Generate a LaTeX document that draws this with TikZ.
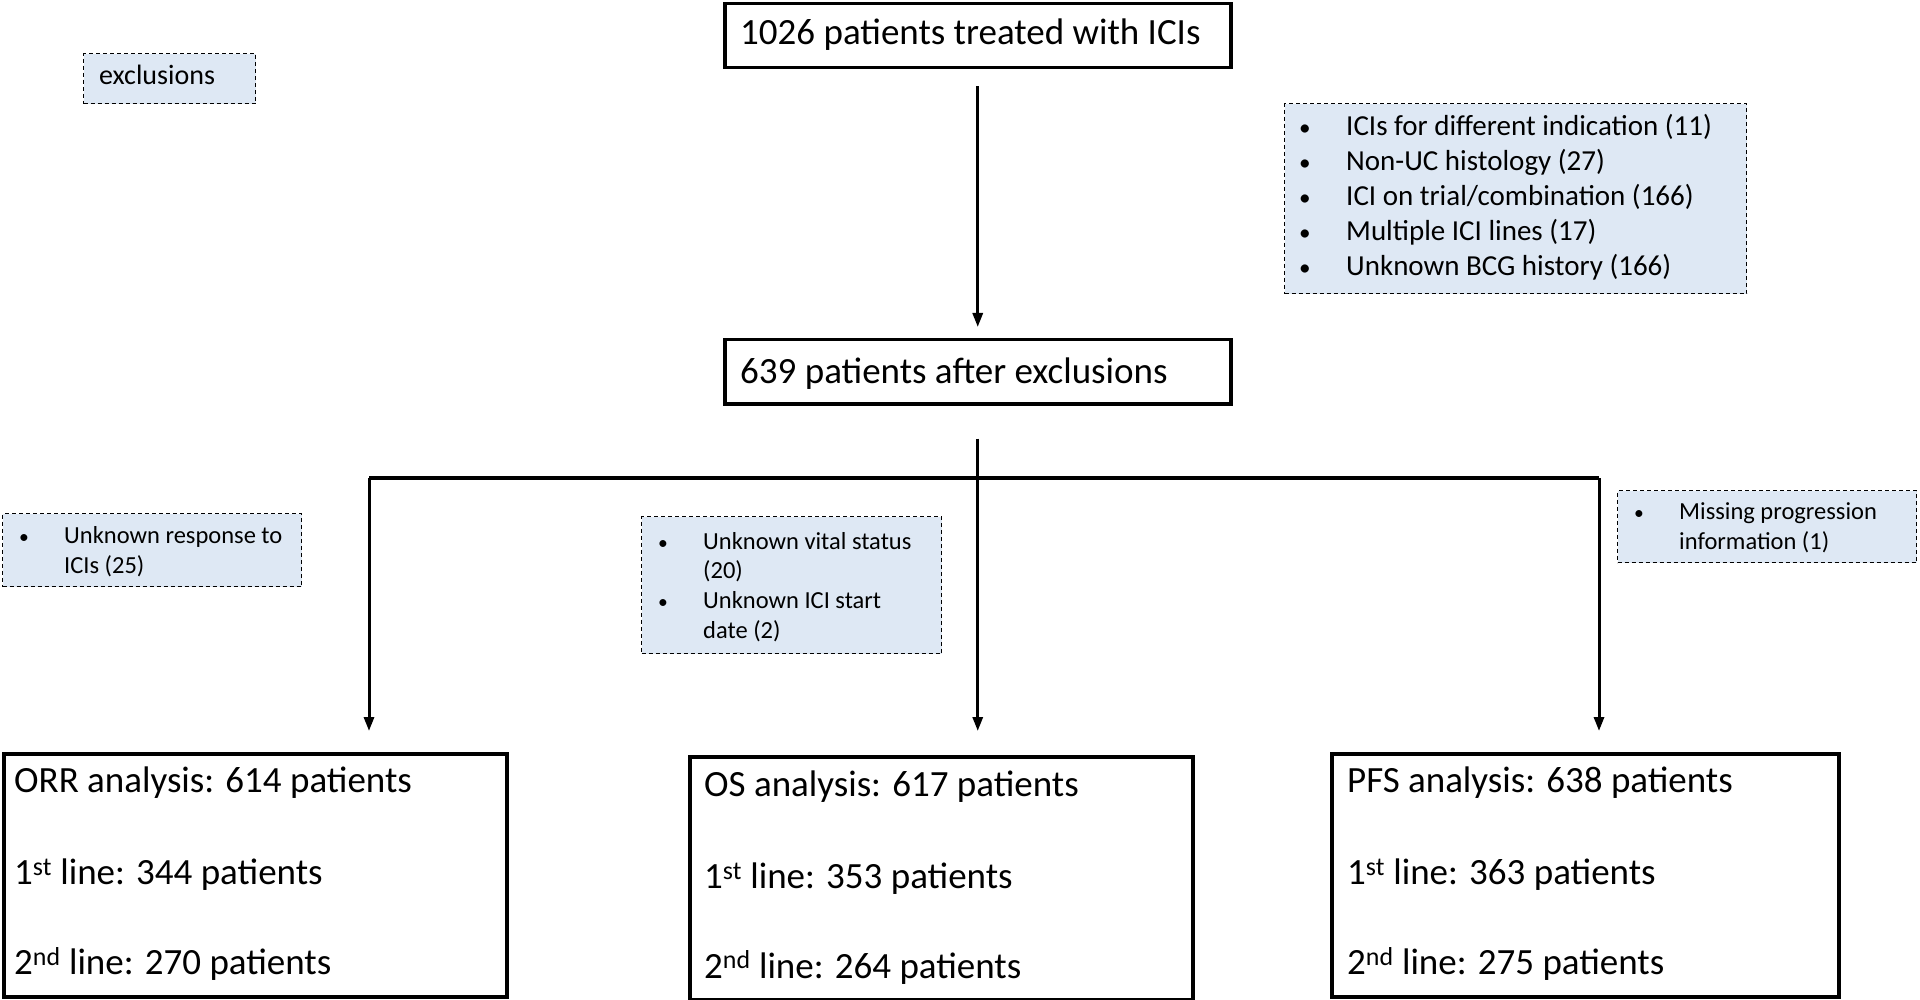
\documentclass[tikz,border=0pt]{standalone}
\usepackage{fontspec}
\setmainfont{Carlito}
\usetikzlibrary{arrows.meta}
\definecolor{exfill}{HTML}{DEE8F4}
\newcommand\bul[2]{\makebox[#1pt][l]{\hspace*{2pt}\scalebox{0.8}{\textbullet}}#2}
\newcommand\cnt[2]{\hspace*{#1pt}#2}
\tikzset{
  mainbox/.style={draw, line width=3.5pt, inner sep=0pt, anchor=north west},
  exbox/.style={draw, dash pattern=on 4pt off 3pt, line width=1.3pt, fill=exfill, inner sep=0pt, anchor=north west},
  bigtxt/.style={font=\fontsize{37}{44}\selectfont, inner sep=0pt, anchor=base west},
  smalltxt/.style={font=\fontsize{24.5}{29.8}\selectfont, inner sep=0pt, anchor=north west, align=left},
  listtxt/.style={font=\fontsize{29}{35}\selectfont, inner sep=0pt, anchor=north west, align=left},
  conn/.style={line width=3pt, line join=round},
  arr/.style={conn, -{Triangle[length=14pt,width=10pt]}}
}
\begin{document}
\begin{tikzpicture}[x=1pt,y=-1pt]
\useasboundingbox (0,0) rectangle (1920,1000);

% main boxes
\node[mainbox, minimum width=506pt, minimum height=64pt] (top) at (723,2) {};
\node[bigtxt] (toptxt) at (740,45) {1026 patients treated with ICIs};

\node[mainbox, minimum width=506pt, minimum height=64pt] (b2) at (723,338) {};
\node[bigtxt] (b2txt) at (740,383) {639 patients after exclusions};

\node[mainbox, minimum width=503pt, minimum height=243pt] (orr) at (2,752) {};
\node[bigtxt] (orr1) at (14,792.5) {ORR analysis: 614 patients};
\node[bigtxt] (orr2) at (14,884.5) {1\textsuperscript{st} line: 344 patients};
\node[bigtxt] (orr3) at (14,974.5) {2\textsuperscript{nd} line: 270 patients};

\node[mainbox, minimum width=503pt, minimum height=243pt] (os) at (688,755) {};
\node[bigtxt] (os1) at (704,796.5) {OS analysis: 617 patients};
\node[bigtxt] (os2) at (704,888.5) {1\textsuperscript{st} line: 353 patients};
\node[bigtxt] (os3) at (704,978) {2\textsuperscript{nd} line: 264 patients};

\node[mainbox, minimum width=507pt, minimum height=243pt] (pfs) at (1330,752) {};
\node[bigtxt] (pfs1) at (1347,792.5) {PFS analysis: 638 patients};
\node[bigtxt] (pfs2) at (1347,884.5) {1\textsuperscript{st} line: 363 patients};
\node[bigtxt] (pfs3) at (1347,974.5) {2\textsuperscript{nd} line: 275 patients};

% exclusion boxes
\node[exbox, minimum width=172pt, minimum height=50pt] (exl) at (83,53) {};
\node[font=\fontsize{28}{33.5}\selectfont, inner sep=0pt, anchor=base west] (exltxt) at (99,85) {exclusions};

\node[exbox, minimum width=462pt, minimum height=190pt] (ex1) at (1284,103) {};
\node[listtxt] (ex1txt) at (1297,111) {\strut\bul{49}{ICIs for different indication (11)}\\
\bul{49}{Non-UC histology (27)}\\
\bul{49}{ICI on trial/combination (166)}\\
\bul{49}{Multiple ICI lines (17)}\\
\bul{49}{Unknown BCG history (166)}};

\node[exbox, minimum width=299pt, minimum height=73pt] (ex2) at (2,513) {};
\node[smalltxt] (ex2txt) at (17,522.5) {\strut\bul{47}{Unknown response to}\\
\cnt{47}{ICIs (25)}};

\node[exbox, minimum width=300pt, minimum height=137pt] (ex3) at (641,516) {};
\node[smalltxt] (ex3txt) at (656,528) {\strut\bul{47}{Unknown vital status}\\
\cnt{47}{(20)}\\
\bul{47}{Unknown ICI start}\\
\cnt{47}{date (2)}};

\node[exbox, minimum width=299pt, minimum height=72pt] (ex4) at (1617,490) {};
\node[smalltxt] (ex4txt) at (1632,498.5) {\strut\bul{47}{Missing progression}\\
\cnt{47}{information (1)}};

% connectors
\draw[arr] ([yshift=-17pt]top.south) -- ([yshift=11pt]b2.north);
\coordinate (bl) at (369,478);
\coordinate (bR) at (1599,478);
\draw[line width=3.5pt] (bl) -- (bR);
\draw[arr] ([yshift=-33pt]b2.south) -- ([yshift=24pt]b2.south |- os.north);
\draw[arr] (bl) -- ([yshift=21pt]bl |- orr.north);
\draw[arr] (bR) -- ([yshift=21pt]bR |- pfs.north);
\end{tikzpicture}
\end{document}
